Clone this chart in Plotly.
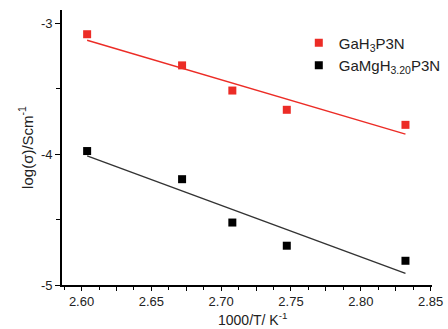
import numpy as np
import plotly.graph_objects as go

# Data
inv_T = [2.604, 2.672, 2.708, 2.747, 2.832]
log_sigma_GaH3 = [-3.085, -3.323, -3.515, -3.662, -3.777]
log_sigma_GaMgH = [-3.977, -4.192, -4.523, -4.700, -4.815]

series_names = ["GaH<sub>3</sub>P3N", "GaMgH<sub>3.20</sub>P3N"]

x_tickvals = [2.600, 2.625, 2.650, 2.675, 2.700, 2.725, 2.750, 2.775, 2.800, 2.825, 2.850]
x_ticktext = ["2.60", "", "2.65", "", "2.70", "", "2.75", "", "2.80", "", "2.85"]
x_minorvals = [2.5875, 2.6125, 2.6375, 2.6625, 2.6875, 2.7125, 2.7375, 2.7625, 2.7875, 2.8125, 2.8375]
y_tickvals = [-3, -4, -5]
y_ticktext = ["-3", "-4", "-5"]

RED = "#ec2c26"
BLACK = "#000000"

fig = go.Figure()

def fit_line(x, y):
    x = np.asarray(x)
    p = np.polyfit(x, np.asarray(y), 1)
    xs = np.array([x.min(), x.max()])
    return xs, np.polyval(p, xs)

for y, name, col, lcol in [(log_sigma_GaH3, series_names[0], RED, RED),
                            (log_sigma_GaMgH, series_names[1], BLACK, "#333333")]:
    xs, ys = fit_line(inv_T, y)
    fig.add_trace(go.Scatter(x=xs, y=ys, mode="lines", line=dict(color=lcol, width=1.4),
                             showlegend=False, hoverinfo="skip"))
    fig.add_trace(go.Scatter(x=inv_T, y=y, mode="markers", name=name,
                             marker=dict(symbol="square", size=8, color=col)))

axis_common = dict(showline=True, linecolor="black", linewidth=1.6, ticks="outside",
                   tickcolor="black", tickwidth=1.4, showgrid=False,
                   zeroline=False, mirror=False, automargin=False,
                   tickfont=dict(family="Liberation Sans, Arial", size=13, color="#222222"))

fig.update_xaxes(**axis_common, ticklen=4, range=[2.586, 2.851], tickmode="array",
                 tickvals=x_tickvals, ticktext=x_ticktext,
                 minor=dict(tickmode="array", tickvals=x_minorvals, ticklen=3,
                            tickcolor="black", tickwidth=1.2, ticks="outside"))
fig.update_yaxes(**axis_common, ticklen=5, range=[-5, -2.9], tickmode="array",
                 tickvals=y_tickvals, ticktext=y_ticktext,
                 minor=dict(dtick=0.5, tick0=-5, ticklen=4, tickcolor="black",
                            tickwidth=1.2, ticks="outside"),
                 title=dict(text="log(σ)/Scm<sup>-1</sup>", standoff=4,
                            font=dict(family="Liberation Sans, Arial", size=15, color="#222222")))

fig.add_annotation(text="1000/T/ K<sup>-1</sup>", xref="paper", yref="paper",
                   x=0.515, y=-0.124, xanchor="center", yanchor="middle", showarrow=False,
                   font=dict(family="Liberation Sans, Arial", size=14, color="#222222"))

fig.update_layout(
    width=448, height=329,
    margin=dict(l=62, r=16, t=10, b=44, autoexpand=False),
    plot_bgcolor="white", paper_bgcolor="white",
    legend=dict(x=0.64, y=0.94, xanchor="left", yanchor="top",
                bgcolor="rgba(0,0,0,0)", borderwidth=0,
                font=dict(family="Liberation Sans, Arial", size=15, color="#222222"),
                itemwidth=30),
)

fig.write_html("out.html", config={"displayModeBar": False},
               post_script="document.body.style.margin='0';")
